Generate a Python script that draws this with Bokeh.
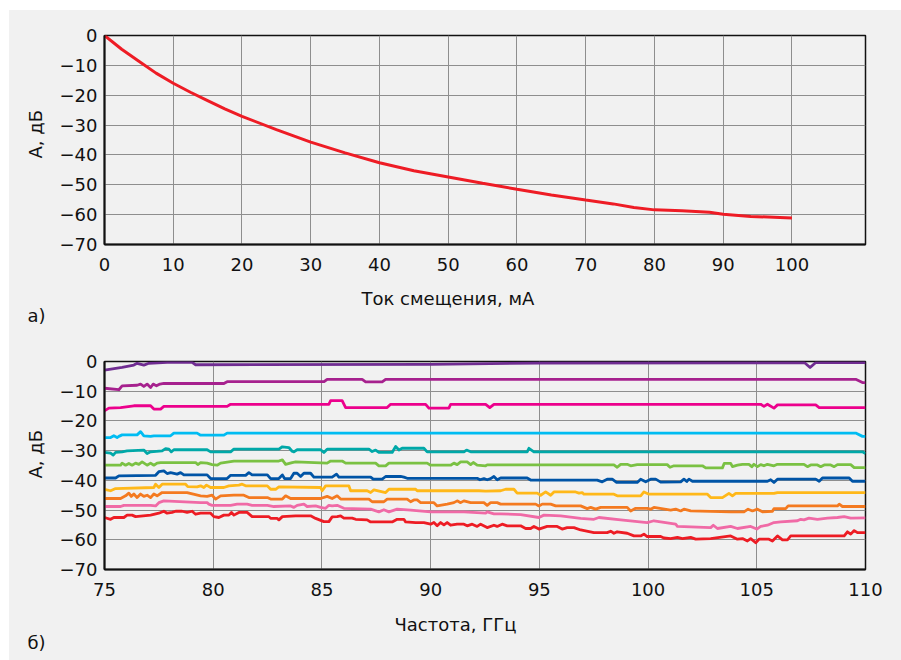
from bokeh.plotting import figure
from bokeh.layouts import column
from bokeh.models import Range1d, FixedTicker, Title
from bokeh.embed import file_html
from bokeh.resources import INLINE

FONT = "DejaVu Sans"
BG = "#f1f1f1"
TXT = "#111111"
FS = "18px"

# ---------------- panel a) ----------------
bias_ma = [0, 2.5, 5, 7.5, 10, 12.5, 15, 17.5, 20, 25, 30, 35, 40, 45, 50, 55,
           60, 65, 70, 74, 77, 80, 84, 88, 90, 94, 100]
atten_db = [0, -4.6, -8.6, -12.6, -16.0, -19.0, -21.8, -24.6, -27.1, -31.5, -35.7,
            -39.3, -42.6, -45.3, -47.4, -49.5, -51.5, -53.4, -55.1, -56.4, -57.6,
            -58.4, -58.7, -59.2, -59.9, -60.6, -61.1]
top_xticks = [0, 10, 20, 30, 40, 50, 60, 70, 80, 90, 100]
y_ticks = [-70, -60, -50, -40, -30, -20, -10, 0]
bottom_xticks = [75, 80, 85, 90, 95, 100, 105, 110]

# ---------------- panel б) ----------------
s1_f = [75.0, 75.81, 76.35, 76.5, 76.81, 77.04, 77.88, 79.03, 79.19, 90.0, 95.0, 107.2, 107.45, 107.7, 110.0]
s1_v = [-2.9, -2.0, -1.2, -0.6, -1.2, -0.6, -0.3, -0.3, -1.1, -1.0, -0.5, -0.4, -2.0, -0.4, -0.4]

s2_f = [75.0, 75.66, 75.81, 76.5, 76.66, 76.81, 76.96, 77.12, 77.24, 77.39, 77.55, 77.73, 80.49, 80.64,
        85.1, 85.24, 86.85, 87.01, 87.77, 87.93, 109.55, 109.86, 110.0]
s2_v = [-9.0, -9.5, -8.2, -8.0, -7.6, -8.4, -7.6, -8.75, -7.6, -8.2, -7.6, -7.4, -7.4, -6.8,
        -6.8, -6.0, -6.0, -6.85, -6.85, -6.0, -6.0, -7.1, -7.1]

s3_f = [75.0, 75.2, 75.74, 76.35, 77.12, 77.27, 77.58, 77.73, 80.64, 80.8, 85.32, 85.4, 85.93, 86.09,
        88.0, 88.16, 89.77, 89.92, 90.84, 90.92, 92.53, 92.72, 92.91, 105.18, 105.33, 105.49, 105.79,
        105.95, 107.71, 107.87, 110.0]
s3_v = [-16.6, -15.7, -15.5, -14.9, -14.9, -16.0, -16.0, -15.1, -15.1, -14.4, -14.4, -13.2, -13.2, -15.5,
        -15.5, -14.4, -14.4, -15.7, -15.7, -14.4, -14.4, -15.5, -14.4, -14.4, -15.1, -14.4, -15.7,
        -14.6, -14.6, -15.5, -15.5]

s4_f = [75.0, 75.28, 75.43, 75.58, 75.66, 75.81, 76.5, 76.66, 76.81, 77.12, 77.27, 78.04, 78.19, 79.26,
        79.42, 80.49, 80.64, 109.55, 109.86, 110.0]
s4_v = [-25.6, -25.6, -25.0, -25.6, -25.2, -24.7, -24.7, -23.6, -25.0, -25.2, -25.0, -25.0, -24.1, -24.1,
        -24.8, -24.8, -24.1, -24.1, -25.2, -25.2]

s5_f = [75.0, 75.28, 75.4, 75.51, 75.81, 76.04, 76.81, 76.96, 77.12, 77.65, 77.81, 77.96, 78.07, 78.19,
        79.72, 79.88, 80.8, 80.95, 83.02, 83.18, 83.48, 83.63, 83.71, 83.86, 84.94, 85.09, 85.24, 87.16,
        87.31, 87.47, 87.62, 88.23, 88.39, 88.54, 88.69, 89.69, 89.84, 91.53, 91.65, 91.84, 94.44, 94.52,
        94.75, 109.86, 110.0]
s5_v = [-30.6, -30.85, -31.5, -30.6, -30.4, -30.1, -29.8, -31.0, -30.4, -30.1, -29.3, -29.5, -30.4, -29.7,
        -29.7, -30.4, -30.4, -29.5, -29.5, -28.7, -28.95, -30.2, -30.4, -29.7, -29.7, -30.6, -29.5, -29.5,
        -30.3, -29.8, -30.6, -30.6, -28.6, -29.8, -29.2, -29.2, -30.4, -30.4, -29.8, -30.4, -30.4, -29.2,
        -30.4, -30.4, -31.0]

s6_f = [75.0, 75.74, 75.81, 75.97, 76.12, 76.27, 76.43, 76.58, 76.73, 76.96, 77.12, 77.27, 77.42, 77.58,
        79.19, 79.29, 79.42, 79.72, 79.95, 80.18, 80.34, 80.95, 83.02, 83.18, 83.33, 83.63, 83.79, 85.24,
        85.4, 85.93, 86.09, 87.47, 87.62, 87.93, 88.08, 89.84, 90.0, 90.92, 91.07, 91.22, 91.38, 91.68,
        91.84, 91.96, 92.14, 92.53, 92.6, 98.43, 98.58, 98.74, 99.04, 99.2, 99.5, 100.88, 101.01, 101.19,
        102.5, 102.65, 103.42, 103.5, 103.8, 103.88, 104.11, 104.34, 104.64, 104.77, 104.87, 105.03,
        105.18, 105.33, 105.49, 105.79, 105.95, 107.17, 107.33, 107.48, 107.79, 107.94, 108.1, 108.4,
        108.56, 108.71, 109.32, 109.48, 110.0]
s6_v = [-34.9, -34.9, -34.2, -34.9, -34.3, -34.9, -34.2, -34.6, -33.8, -34.9, -34.2, -34.9, -34.2, -34.0,
        -34.0, -34.7, -34.0, -34.2, -34.7, -34.9, -34.2, -33.5, -33.5, -33.1, -34.6, -34.0, -33.8, -34.2,
        -33.5, -33.5, -34.2, -34.2, -35.1, -35.1, -34.2, -34.2, -34.9, -34.9, -34.2, -34.7, -33.8, -33.8,
        -34.7, -34.0, -34.9, -35.1, -34.8, -34.8, -35.6, -34.6, -34.6, -35.1, -34.7, -34.7, -35.6, -35.1,
        -35.1, -35.8, -35.8, -34.3, -34.3, -35.4, -34.9, -34.6, -34.6, -35.4, -34.6, -35.4,
        -34.7, -35.1, -34.6, -35.1, -34.6, -34.6, -35.4, -34.8, -34.8, -35.4, -34.8, -34.8,
        -35.4, -34.7, -34.7, -35.7, -35.7]

s7_f = [75.0, 75.51, 75.66, 77.35, 77.5, 77.73, 77.88, 78.04, 78.34, 78.5, 78.65, 79.72, 79.88, 80.64,
        80.8, 81.49, 81.64, 81.79, 82.49, 82.64, 83.02, 83.18, 83.28, 83.56, 83.71, 83.86, 84.02, 84.17,
        84.48, 84.63, 85.47, 85.67, 85.78, 87.24, 87.36, 87.77, 87.93, 88.62, 88.77, 88.92, 92.14, 92.27,
        92.45, 92.6, 92.76, 92.91, 93.06, 93.22, 94.44, 94.6, 97.66, 97.89, 98.12, 98.35, 98.55, 99.5,
        99.66, 99.89, 100.12, 100.35, 100.58, 101.5, 101.65, 101.78, 101.88, 102.04, 105.49, 105.64,
        105.79, 105.95, 107.71, 107.87, 108.02, 109.25, 109.4, 110.0]
s7_v = [-39.2, -39.2, -38.5, -38.3, -37.1, -36.8, -37.7, -37.4, -37.9, -37.4, -38.15, -38.15, -39.4, -39.4,
        -38.3, -38.3, -37.4, -38.15, -38.15, -39.4, -39.4, -38.15, -39.4, -39.4, -37.6, -37.6, -38.7, -37.6,
        -37.6, -38.9, -38.9, -37.9, -38.9, -38.9, -39.6, -39.6, -38.7, -38.7, -38.9, -39.3, -39.3, -39.8,
        -39.4, -39.8, -39.4, -38.7, -39.8, -39.2, -39.2, -39.9, -39.9, -40.5, -39.6, -39.6, -40.7, -40.7,
        -39.6, -40.5, -39.6, -39.6, -40.6, -40.5, -39.6, -40.4, -39.6, -40.3, -40.3, -39.8,
        -40.7, -39.6, -39.6, -40.3, -39.2, -39.2, -40.3, -40.3]

s8_f = [75.0, 75.28, 75.51, 77.27, 77.35, 77.5, 77.65, 78.73, 78.83, 79.26, 79.42, 79.57, 79.69, 79.88,
        80.49, 80.72, 81.18, 81.33, 81.49, 82.49, 82.64, 82.87, 83.02, 84.94, 85.01, 85.17, 86.24, 86.32,
        87.08, 87.24, 87.39, 87.93, 88.08, 89.31, 89.38, 92.22, 92.53, 93.22, 93.45, 93.83, 93.98, 94.9,
        95.06, 95.29, 95.52, 95.67, 96.67, 96.82, 96.97, 97.05, 98.43, 98.58, 99.66, 99.81, 100.04,
        102.73, 102.88, 103.42, 103.72, 103.88, 104.03, 105.79, 105.95, 110.0]
s8_v = [-43.0, -43.5, -42.75, -42.4, -41.3, -42.4, -41.3, -41.3, -42.1, -42.2, -41.85, -42.4, -41.6, -42.4,
        -42.4, -41.85, -41.6, -41.3, -41.85, -41.85, -43.0, -43.0, -42.2, -42.4, -43.5, -41.85, -41.85, -43.5,
        -43.5, -44.1, -43.2, -44.1, -43.0, -43.0, -43.5, -43.5, -43.6, -43.5, -43.0, -43.0, -44.3, -44.3,
        -45.0, -43.9, -45.0, -43.9, -43.9, -44.3, -44.1, -44.65, -44.65, -45.2, -45.2, -43.9, -44.65,
        -44.65, -45.8, -45.8, -44.4, -45.2, -44.4, -44.4, -44.1, -44.1]

s9_f = [75.0, 75.74, 75.97, 76.12, 76.23, 76.35, 76.5, 76.66, 76.81, 76.96, 77.12, 77.27, 77.42, 77.65,
        78.8, 79.42, 79.72, 79.95, 80.11, 80.34, 80.95, 81.41, 81.64, 82.49, 82.64, 83.18, 83.33, 83.56,
        84.94, 85.24, 85.47, 85.7, 85.86, 87.16, 87.31, 87.85, 88.0, 88.92, 89.08, 89.23, 89.38, 89.54,
        90.15, 90.3, 90.76, 91.07, 91.22, 91.38, 91.53, 91.84, 92.45, 92.6, 92.76, 93.06, 93.22, 94.83,
        94.98, 95.13, 95.52, 95.75, 96.9, 97.2, 97.36, 97.59, 97.82, 99.04, 99.2, 99.43, 99.96, 100.12,
        100.27, 101.04, 101.27, 101.5, 101.65, 101.96, 103.8, 104.41, 104.6, 104.8, 105.03, 105.26,
        105.72, 105.79, 106.33, 106.44, 108.71, 108.79, 108.94, 110.0]
s9_v = [-46.1, -46.1, -45.2, -44.3, -45.4, -44.6, -45.8, -44.6, -45.4, -45.0, -45.8, -44.6, -45.2, -44.1,
        -44.1, -45.2, -45.4, -45.0, -46.3, -45.2, -45.0, -45.0, -45.8, -45.8, -46.3, -46.3, -45.2, -46.1,
        -46.1, -45.4, -46.1, -45.2, -46.3, -46.3, -47.2, -47.2, -46.3, -46.3, -47.2, -46.6, -46.6, -47.5,
        -47.5, -48.6, -48.0, -47.5, -46.9, -47.5, -46.9, -47.5, -47.5, -48.4, -47.5, -47.5, -48.0, -48.0,
        -48.6, -48.0, -48.0, -48.6, -48.6, -49.5, -49.1, -49.7, -49.1, -49.1, -50.3, -49.4, -49.4, -49.7,
        -49.1, -50.0, -49.7, -50.3, -49.7, -50.3, -50.6, -50.6, -49.7, -50.3, -49.7, -50.6,
        -50.4, -49.5, -49.5, -48.6, -48.6, -48.0, -48.8, -48.8]

s10_f = [75.0, 75.74, 75.89, 77.12, 77.35, 77.5, 77.73, 79.42, 79.72, 79.8, 79.95, 80.8, 81.1, 81.56,
         81.79, 82.49, 82.79, 83.56, 83.71, 83.86, 84.17, 84.32, 84.71, 84.94, 85.17, 85.32, 85.47, 85.7,
         86.01, 87.24, 87.62, 87.85, 88.08, 88.46, 89.08, 90.0, 91.53, 92.53, 92.6, 92.91, 93.22, 94.14,
         94.98, 95.21, 95.98, 96.9, 97.51, 97.74, 98.74, 99.96, 100.27, 101.27, 101.35, 102.88, 103.0,
         103.19, 103.8, 104.11, 104.72, 105.0, 105.18, 105.49, 105.79, 106.1, 106.87, 107.02, 107.17,
         107.4, 107.79, 108.25, 108.71, 109.02, 109.32, 110.0]
s10_v = [-48.8, -48.8, -48.4, -48.4, -48.6, -47.5, -46.9, -47.5, -47.5, -48.0, -48.4, -48.4, -48.0, -48.0,
         -48.4, -48.4, -48.8, -48.6, -49.1, -48.4, -48.0, -48.8, -48.6, -49.1, -49.4, -48.4, -48.6, -48.4,
         -49.4, -49.7, -50.6, -49.9, -50.6, -49.7, -50.0, -50.6, -50.6, -51.0, -50.6, -51.3, -51.3, -51.5,
         -52.5, -51.7, -51.95, -52.8, -53.1, -52.5, -53.3, -54.2, -53.6, -54.75, -55.5, -55.9, -55.1,
         -56.2, -55.5, -56.2, -55.5, -56.4, -55.5, -55.1, -54.2, -54.0, -53.6, -53.1, -53.3,
         -52.7, -53.1, -52.7, -52.5, -52.2, -52.7, -52.6]

s11_f = [75.0, 75.28, 75.43, 75.89, 76.04, 76.27, 76.43, 77.12, 77.5, 77.73, 77.88, 78.11, 78.27, 78.57,
         78.8, 79.03, 79.19, 79.42, 79.88, 80.03, 80.26, 80.49, 80.72, 80.84, 80.95, 81.18, 81.56, 81.79,
         82.56, 82.64, 82.95, 83.02, 83.18, 83.79, 84.48, 84.71, 85.09, 85.32, 85.47, 85.7, 85.86, 86.01,
         86.39, 86.55, 87.08, 87.24, 88.23, 88.46, 88.77, 88.85, 89.31, 89.69, 90.0, 90.15, 90.3, 90.46,
         90.61, 90.76, 90.92, 91.22, 91.53, 91.68, 91.91, 92.14, 92.3, 92.6, 92.91, 93.06, 93.29, 93.52,
         94.14, 94.37, 94.6, 94.75, 94.98, 95.36, 95.82, 96.05, 96.28, 96.59, 96.9, 97.51, 98.12, 98.28,
         98.43, 98.58, 99.04, 99.35, 99.66, 99.81, 99.96, 100.58, 100.73, 101.04, 101.35, 101.58,
         101.96, 102.19, 102.88, 103.8, 104.11, 104.34, 104.57, 104.72, 104.95, 105.1, 105.56, 105.72,
         105.95, 106.18, 106.41, 106.56, 109.02, 109.17, 109.32, 109.48, 109.63, 110.0]
s11_v = [-52.5, -53.1, -52.5, -52.5, -51.7, -51.7, -52.2, -51.7, -51.05, -50.4, -51.05, -50.8, -50.4, -50.4,
         -50.8, -50.4, -51.4, -51.05, -51.05, -52.2, -52.5, -51.7, -51.7, -50.8, -51.7, -50.8, -50.8, -52.2,
         -52.2, -52.8, -52.8, -53.3, -52.2, -51.95, -51.95, -52.8, -53.9, -53.9, -52.3, -52.2, -51.95, -52.7,
         -52.7, -53.1, -53.3, -54.0, -54.0, -53.1, -53.1, -54.0, -54.2, -54.2, -54.75, -54.2, -55.3, -54.2,
         -55.0, -54.2, -55.1, -54.75, -54.75, -55.3, -54.75, -55.5, -54.75, -55.9, -55.1, -55.5, -54.75, -55.3,
         -55.3, -56.2, -56.2, -55.5, -56.4, -55.5, -55.5, -56.4, -55.9, -55.9, -56.7, -57.6, -57.6, -57.1,
         -57.8, -57.3, -57.8, -58.7, -58.7, -58.1, -58.9, -58.9, -59.4, -59.6, -59.2, -59.6,
         -59.2, -59.8, -59.6, -58.7, -59.8, -59.6, -60.4, -59.6, -61.0, -59.8, -59.8, -60.4,
         -58.7, -60.0, -60.0, -58.7, -58.7, -57.3, -58.1, -56.9, -57.6, -57.6]

series = [
    (s1_f, s1_v, "#6f2c91"),
    (s2_f, s2_v, "#a6218e"),
    (s3_f, s3_v, "#ec008c"),
    (s4_f, s4_v, "#00bcf2"),
    (s5_f, s5_v, "#00a8a8"),
    (s6_f, s6_v, "#7ac143"),
    (s7_f, s7_v, "#0054a6"),
    (s8_f, s8_v, "#ffb819"),
    (s9_f, s9_v, "#f47a20"),
    (s10_f, s10_v, "#f06aa6"),
    (s11_f, s11_v, "#ed1c24"),
]


def minus(v):
    return ("\u2212" + str(abs(v))) if v < 0 else str(v)


def make_fig(x_range, xticks, height, top_border):
    p = figure(width=892, height=height, output_backend="svg", toolbar_location=None,
               x_range=x_range, y_range=Range1d(-70, 0),
               min_border_left=95, min_border_right=36, min_border_top=top_border,
               min_border_bottom=91)
    p.background_fill_color = BG
    p.border_fill_color = BG
    p.outline_line_color = "#111111"
    p.outline_line_width = 1.5
    p.xaxis.ticker = FixedTicker(ticks=xticks)
    p.yaxis.ticker = FixedTicker(ticks=y_ticks)
    p.yaxis.major_label_overrides = {v: minus(v) for v in y_ticks}
    for ax in (p.xaxis[0], p.yaxis[0]):
        ax.axis_line_color = "#111111"
        ax.axis_line_width = 2
        ax.major_tick_line_color = None
        ax.minor_tick_line_color = None
        ax.major_tick_out = 0
        ax.minor_tick_out = 0
        ax.major_label_text_font = FONT
        ax.major_label_text_font_size = FS
        ax.major_label_text_color = TXT
    p.xaxis.major_label_standoff = 13
    p.yaxis.major_label_standoff = 7
    p.grid.grid_line_color = "#8e8e8e"
    p.grid.grid_line_width = 1
    return p


def add_title(p, text, side, align, offset, standoff, valign="bottom"):
    p.add_layout(Title(text=text, align=align, offset=offset, standoff=standoff,
                       vertical_align=valign, text_font=FONT, text_font_size=FS,
                       text_font_style="normal", text_color=TXT), side)


# panel a
p1 = make_fig(Range1d(0, 110.7), top_xticks, 325, 25)
p1.line(bias_ma, atten_db, line_color="#ee1c25", line_width=3)
add_title(p1, "Ток смещения, мА", "below", "left", 257, 25)
add_title(p1, "а)", "below", "left", -77, -34, "top")
add_title(p1, "А, дБ", "left", "left", 86, 21)

# panel б
p2 = make_fig(Range1d(75, 110), bottom_xticks, 325, 26)
for fx, vy, col in series:
    p2.line(fx, vy, line_color=col, line_width=2.8, line_join="round")
add_title(p2, "Частота, ГГц", "below", "left", 290, 27)
add_title(p2, "б)", "below", "left", -77, -34, "top")
add_title(p2, "А, дБ", "left", "left", 91, 21)

layout = column(p1, p2, margin=(10, 0, 0, 9), spacing=0,
                styles={"background-color": BG})

open("out.html", "w").write(file_html(layout, INLINE))
